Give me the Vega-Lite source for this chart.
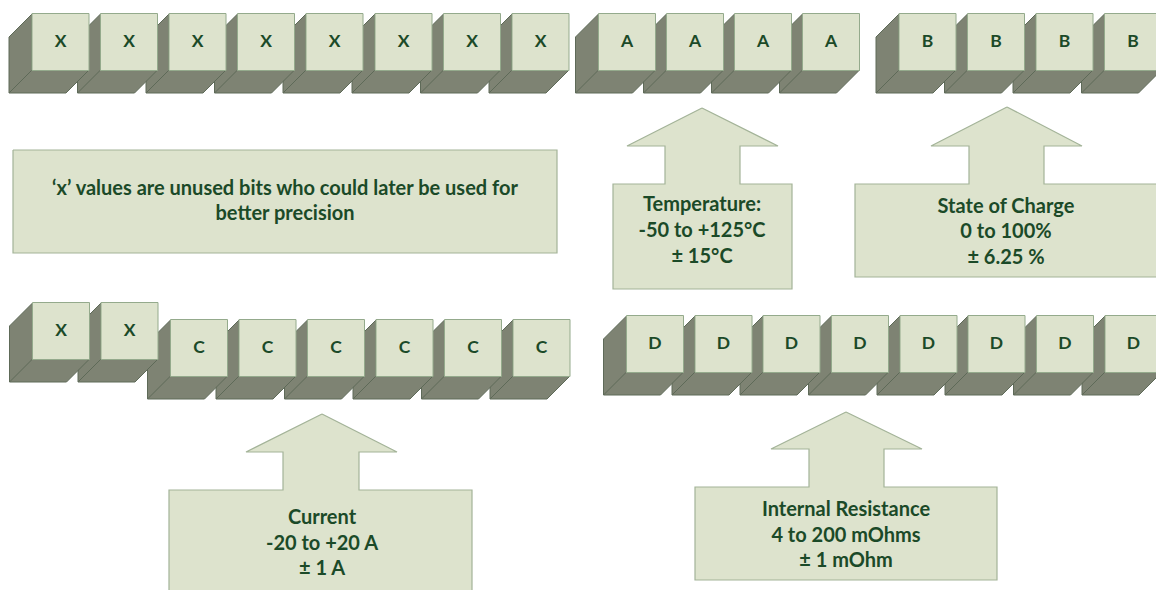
{
  "$schema": "https://vega.github.io/schema/vega-lite/v6.json",
  "width": 1156,
  "height": 590,
  "autosize": {"type": "fit", "contains": "padding"},
  "padding": 0,
  "background": "white",
  "config": {"view": {"stroke": null}},
  "datasets": {
    "shadows": [
      {"id": "xt7", "px": [512,512,489,489,546,569,512,489], "py": [70,14,37,93,93,70,70,93]},
      {"id": "xt6", "px": [443.5,443.5,420.5,420.5,477.5,500.5,443.5,420.5], "py": [70,14,37,93,93,70,70,93]},
      {"id": "xt5", "px": [375,375,352,352,409,432,375,352], "py": [70,14,37,93,93,70,70,93]},
      {"id": "xt4", "px": [306,306,283,283,340,363,306,283], "py": [70,14,37,93,93,70,70,93]},
      {"id": "xt3", "px": [237.5,237.5,214.5,214.5,271.5,294.5,237.5,214.5], "py": [70,14,37,93,93,70,70,93]},
      {"id": "xt2", "px": [169,169,146,146,203,226,169,146], "py": [70,14,37,93,93,70,70,93]},
      {"id": "xt1", "px": [100.5,100.5,77.5,77.5,134.5,157.5,100.5,77.5], "py": [70,14,37,93,93,70,70,93]},
      {"id": "xt0", "px": [32,32,9,9,66,89,32,9], "py": [70,14,37,93,93,70,70,93]},
      {"id": "a3", "px": [802.5,802.5,779.5,779.5,836.5,859.5,802.5,779.5], "py": [70,14,37,93,93,70,70,93]},
      {"id": "a2", "px": [734.5,734.5,711.5,711.5,768.5,791.5,734.5,711.5], "py": [70,14,37,93,93,70,70,93]},
      {"id": "a1", "px": [666.5,666.5,643.5,643.5,700.5,723.5,666.5,643.5], "py": [70,14,37,93,93,70,70,93]},
      {"id": "a0", "px": [598.5,598.5,575.5,575.5,632.5,655.5,598.5,575.5], "py": [70,14,37,93,93,70,70,93]},
      {"id": "b3", "px": [1104.5,1104.5,1081.5,1081.5,1138.5,1161.5,1104.5,1081.5], "py": [70,14,37,93,93,70,70,93]},
      {"id": "b2", "px": [1036,1036,1013,1013,1070,1093,1036,1013], "py": [70,14,37,93,93,70,70,93]},
      {"id": "b1", "px": [967.5,967.5,944.5,944.5,1001.5,1024.5,967.5,944.5], "py": [70,14,37,93,93,70,70,93]},
      {"id": "b0", "px": [899,899,876,876,933,956,899,876], "py": [70,14,37,93,93,70,70,93]},
      {"id": "c5", "px": [513,513,490,490,547,570,513,490], "py": [376,320,343,399,399,376,376,399]},
      {"id": "c4", "px": [444.5,444.5,421.5,421.5,478.5,501.5,444.5,421.5], "py": [376,320,343,399,399,376,376,399]},
      {"id": "c3", "px": [376,376,353,353,410,433,376,353], "py": [376,320,343,399,399,376,376,399]},
      {"id": "c2", "px": [307.5,307.5,284.5,284.5,341.5,364.5,307.5,284.5], "py": [376,320,343,399,399,376,376,399]},
      {"id": "c1", "px": [239,239,216,216,273,296,239,216], "py": [376,320,343,399,399,376,376,399]},
      {"id": "c0", "px": [170.5,170.5,147.5,147.5,204.5,227.5,170.5,147.5], "py": [376,320,343,399,399,376,376,399]},
      {"id": "xb1", "px": [101,101,78,78,135,158,101,78], "py": [359,303,326,382,382,359,359,382]},
      {"id": "xb0", "px": [32.5,32.5,9.5,9.5,66.5,89.5,32.5,9.5], "py": [359,303,326,382,382,359,359,382]},
      {"id": "d7", "px": [1105,1105,1082,1082,1139,1162,1105,1082], "py": [372,316,339,395,395,372,372,395]},
      {"id": "d6", "px": [1036.5,1036.5,1013.5,1013.5,1070.5,1093.5,1036.5,1013.5], "py": [372,316,339,395,395,372,372,395]},
      {"id": "d5", "px": [968,968,945,945,1002,1025,968,945], "py": [372,316,339,395,395,372,372,395]},
      {"id": "d4", "px": [900,900,877,877,934,957,900,877], "py": [372,316,339,395,395,372,372,395]},
      {"id": "d3", "px": [831.5,831.5,808.5,808.5,865.5,888.5,831.5,808.5], "py": [372,316,339,395,395,372,372,395]},
      {"id": "d2", "px": [763,763,740,740,797,820,763,740], "py": [372,316,339,395,395,372,372,395]},
      {"id": "d1", "px": [695,695,672,672,729,752,695,672], "py": [372,316,339,395,395,372,372,395]},
      {"id": "d0", "px": [626.5,626.5,603.5,603.5,660.5,683.5,626.5,603.5], "py": [372,316,339,395,395,372,372,395]}
    ],
    "cubes": [
      {"label": "X", "cx": 60.5, "cy": 42}, {"label": "X", "cx": 129, "cy": 42},
      {"label": "X", "cx": 197.5, "cy": 42}, {"label": "X", "cx": 266, "cy": 42},
      {"label": "X", "cx": 334.5, "cy": 42}, {"label": "X", "cx": 403.5, "cy": 42},
      {"label": "X", "cx": 472, "cy": 42}, {"label": "X", "cx": 540.5, "cy": 42},
      {"label": "A", "cx": 627, "cy": 42}, {"label": "A", "cx": 695, "cy": 42},
      {"label": "A", "cx": 763, "cy": 42}, {"label": "A", "cx": 831, "cy": 42},
      {"label": "B", "cx": 927.5, "cy": 42}, {"label": "B", "cx": 996, "cy": 42},
      {"label": "B", "cx": 1064.5, "cy": 42}, {"label": "B", "cx": 1133, "cy": 42},
      {"label": "X", "cx": 61, "cy": 331}, {"label": "X", "cx": 129.5, "cy": 331},
      {"label": "C", "cx": 199, "cy": 348}, {"label": "C", "cx": 267.5, "cy": 348},
      {"label": "C", "cx": 336, "cy": 348}, {"label": "C", "cx": 404.5, "cy": 348},
      {"label": "C", "cx": 473, "cy": 348}, {"label": "C", "cx": 541.5, "cy": 348},
      {"label": "D", "cx": 655, "cy": 344}, {"label": "D", "cx": 723.5, "cy": 344},
      {"label": "D", "cx": 791.5, "cy": 344}, {"label": "D", "cx": 860, "cy": 344},
      {"label": "D", "cx": 928.5, "cy": 344}, {"label": "D", "cx": 996.5, "cy": 344},
      {"label": "D", "cx": 1065, "cy": 344}, {"label": "D", "cx": 1133.5, "cy": 344}
    ],
    "shapes": [
      {"id": "note", "px": [13,557,557,13,13], "py": [150,150,253,253,150]},
      {"id": "temp", "px": [702,778,740,740,792,792,613,613,665,665,627,702], "py": [108,146,146,184,184,289,289,184,184,146,146,108]},
      {"id": "soc", "px": [1007,1082,1044,1044,1158,1158,855,855,969,969,931,1007], "py": [107,146,146,184,184,277,277,184,184,146,146,107]},
      {"id": "cur", "px": [322,397,359,359,472,472,169,169,283,283,246,322], "py": [414,452,452,490,490,592,592,490,490,452,452,414]},
      {"id": "ir", "px": [846,922,884,884,997,997,695,695,809,809,771,846], "py": [412,449,449,487,487,580,580,487,487,449,449,412]}
    ],
    "texts": [
      {"t": "‘x’ values are unused bits who could later be used for", "tx": 285, "ty": 189},
      {"t": "better precision", "tx": 285, "ty": 214},
      {"t": "Temperature:", "tx": 702, "ty": 205},
      {"t": "-50 to +125°C", "tx": 702, "ty": 231},
      {"t": "± 15°C", "tx": 702, "ty": 257},
      {"t": "State of Charge", "tx": 1006, "ty": 207},
      {"t": "0 to 100%", "tx": 1006, "ty": 232},
      {"t": "± 6.25 %", "tx": 1006, "ty": 258},
      {"t": "Current", "tx": 322, "ty": 518},
      {"t": "-20 to +20 A", "tx": 322, "ty": 544},
      {"t": "± 1 A", "tx": 322, "ty": 569},
      {"t": "Internal Resistance", "tx": 846, "ty": 510},
      {"t": "4 to 200 mOhms", "tx": 846, "ty": 536},
      {"t": "± 1 mOhm", "tx": 846, "ty": 561}
    ]
  },
  "layer": [
    {
      "data": {"name": "shadows"},
      "transform": [
        {"flatten": ["px", "py"]},
        {"window": [{"op": "row_number", "as": "k"}], "groupby": ["id"]}
      ],
      "mark": {"type": "line", "fill": "#7e8373", "stroke": "#5e6a58", "strokeWidth": 1, "clip": true, "strokeJoin": "miter"},
      "encoding": {
        "x": {"field": "px", "type": "quantitative", "scale": {"domain": [0, 1156], "nice": false, "zero": false}, "axis": null},
        "y": {"field": "py", "type": "quantitative", "scale": {"domain": [0, 590], "reverse": true, "nice": false, "zero": false}, "axis": null},
        "detail": {"field": "id", "type": "nominal"},
        "order": {"field": "k", "type": "quantitative"}
      }
    },
    {
      "data": {"name": "shapes"},
      "transform": [
        {"flatten": ["px", "py"]},
        {"window": [{"op": "row_number", "as": "k"}], "groupby": ["id"]}
      ],
      "mark": {"type": "line", "fill": "#dde3cd", "stroke": "#a3b398", "strokeWidth": 1.2, "clip": true, "strokeJoin": "miter"},
      "encoding": {
        "x": {"field": "px", "type": "quantitative", "scale": {"domain": [0, 1156], "nice": false, "zero": false}, "axis": null},
        "y": {"field": "py", "type": "quantitative", "scale": {"domain": [0, 590], "reverse": true, "nice": false, "zero": false}, "axis": null},
        "detail": {"field": "id", "type": "nominal"},
        "order": {"field": "k", "type": "quantitative"}
      }
    },
    {
      "data": {"name": "cubes"},
      "mark": {"type": "square", "size": 3249, "filled": true, "fill": "#dde3cd", "stroke": "#94aa8c", "strokeWidth": 1, "opacity": 1, "clip": true},
      "encoding": {
        "x": {"field": "cx", "type": "quantitative", "scale": {"domain": [0, 1156], "nice": false, "zero": false}, "axis": null},
        "y": {"field": "cy", "type": "quantitative", "scale": {"domain": [0, 590], "reverse": true, "nice": false, "zero": false}, "axis": null}
      }
    },
    {
      "data": {"name": "cubes"},
      "mark": {"type": "text", "font": "Lato", "fontWeight": "bold", "fontSize": 17.5, "fill": "#1b4a28", "align": "center", "baseline": "middle", "clip": true},
      "encoding": {
        "x": {"field": "cx", "type": "quantitative", "scale": {"domain": [0, 1156], "nice": false, "zero": false}, "axis": null},
        "y": {"field": "cy", "type": "quantitative", "scale": {"domain": [0, 590], "reverse": true, "nice": false, "zero": false}, "axis": null},
        "text": {"field": "label", "type": "nominal"}
      }
    },
    {
      "data": {"name": "texts"},
      "mark": {"type": "text", "font": "Lato", "fontWeight": "bold", "fontSize": 20, "fill": "#1b4a28", "align": "center", "baseline": "middle"},
      "encoding": {
        "x": {"field": "tx", "type": "quantitative", "scale": {"domain": [0, 1156], "nice": false, "zero": false}, "axis": null},
        "y": {"field": "ty", "type": "quantitative", "scale": {"domain": [0, 590], "reverse": true, "nice": false, "zero": false}, "axis": null},
        "text": {"field": "t", "type": "nominal"}
      }
    }
  ]
}
